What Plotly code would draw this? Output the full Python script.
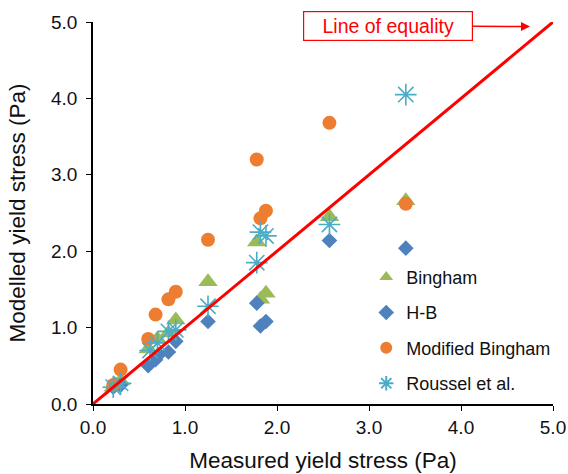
import plotly.graph_objects as go

# Bingham
bing_x = [0.22, 0.25, 0.30, 0.60, 0.70, 0.82, 0.90, 1.25, 1.78, 1.82, 1.88, 2.57, 3.40]
bing_y = [0.22, 0.25, 0.30, 0.72, 0.85, 0.93, 1.10, 1.60, 2.12, 1.37, 1.45, 2.45, 2.66]
# H-B
hb_x = [0.22, 0.30, 0.60, 0.68, 0.72, 0.82, 0.90, 1.25, 1.78, 1.82, 1.88, 2.57, 3.40]
hb_y = [0.22, 0.25, 0.50, 0.58, 0.65, 0.68, 0.82, 1.08, 1.32, 1.02, 1.08, 2.14, 2.04]
# Modified Bingham
mb_x = [0.22, 0.30, 0.60, 0.68, 0.82, 0.90, 1.25, 1.78, 1.82, 1.88, 2.57, 3.40]
mb_y = [0.25, 0.45, 0.85, 1.17, 1.37, 1.47, 2.15, 3.20, 2.43, 2.53, 3.68, 2.62]
# Roussel et al.
ro_x = [0.22, 0.30, 0.62, 0.70, 0.82, 0.90, 1.25, 1.78, 1.82, 1.88, 2.57, 3.40]
ro_y = [0.22, 0.27, 0.70, 0.80, 0.95, 0.97, 1.28, 1.85, 2.25, 2.20, 2.35, 4.05]

eq_x = [0, 5]
eq_y = [0, 5]

ticks = [0, 1, 2, 3, 4, 5]

font = "Arial, Liberation Sans, sans-serif"

fig = go.Figure()
fig.add_trace(go.Scatter(x=bing_x, y=bing_y, mode="markers", name="Bingham",
                         legendgroup="a",
                         marker=dict(symbol="triangle-up", size=17, color="#9BBB59")))
fig.add_trace(go.Scatter(x=hb_x, y=hb_y, mode="markers", name="H-B",
                         legendgroup="b",
                         marker=dict(symbol="diamond", size=12, color="#4F81BD")))
fig.add_trace(go.Scatter(x=mb_x, y=mb_y, mode="markers", name="Modified Bingham",
                         legendgroup="c",
                         marker=dict(symbol="circle", size=14, color="#ED7D31")))
fig.add_trace(go.Scatter(x=ro_x, y=ro_y, mode="markers", name="Roussel et al.",
                         legendgroup="d",
                         marker=dict(symbol="asterisk-open", size=18,
                                     line=dict(color="#4BACC6", width=1.6), color="#4BACC6")))
fig.add_trace(go.Scatter(x=eq_x, y=eq_y, mode="lines", showlegend=False,
                         line=dict(color="#FF0000", width=3)))

fig.add_annotation(x=4.75, y=4.94, xref="x", yref="y",
                   text="Line of equality", showarrow=True,
                   ax=-142, ay=-1, arrowhead=2, arrowsize=1.2, arrowwidth=1.5,
                   arrowcolor="#FF0000",
                   font=dict(family=font, size=19.5, color="#FF0000"),
                   bordercolor="#FF0000", borderwidth=1.2, borderpad=3,
                   bgcolor="white", width=162)

axis_common = dict(range=[0, 5], tickvals=ticks, tickformat=".1f",
                   showline=True, linecolor="black", linewidth=1.5,
                   ticks="outside", ticklen=5, tickcolor="black",
                   showgrid=False, zeroline=False, automargin=False,
                   tickfont=dict(family=font, size=19, color="#111"))

fig.update_layout(
    width=568, height=474,
    margin=dict(l=93, r=15, t=22, b=70),
    plot_bgcolor="white", paper_bgcolor="white",
    xaxis=dict(**axis_common,
               title=dict(text="Measured yield stress (Pa)",
                          font=dict(family=font, size=22.5, color="#111"), standoff=16)),
    yaxis=dict(**axis_common, ticklabelstandoff=5,
               title=dict(text="Modelled yield stress (Pa)",
                          font=dict(family=font, size=22.5, color="#111"), standoff=19)),
    legend=dict(x=0.594, y=0.38, xanchor="left", yanchor="top",
                font=dict(family=font, size=18, color="#111"),
                tracegroupgap=9, traceorder="grouped", bgcolor="rgba(0,0,0,0)",
                itemsizing="constant", itemwidth=30, borderwidth=0),
    showlegend=True,
)

fig.write_html("out.html")
